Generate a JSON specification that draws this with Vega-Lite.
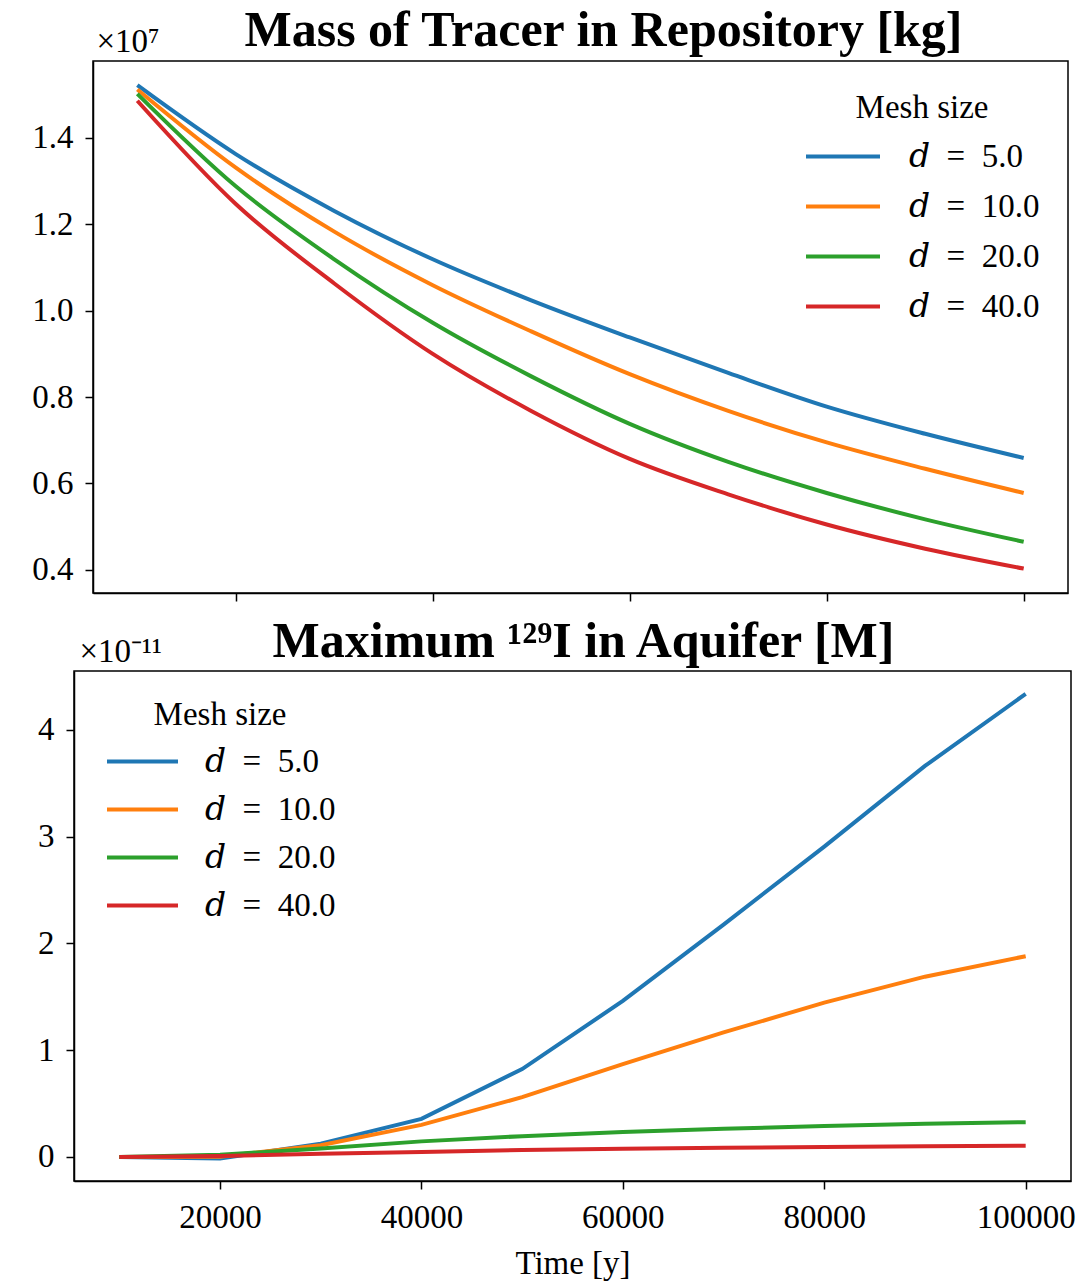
{
  "$schema": "https://vega.github.io/schema/vega-lite/v6.json",
  "padding": {"left": 5, "top": 5, "right": 0, "bottom": 0},
  "background": "white",
  "config": {
    "font": "Liberation Serif",
    "view": {"stroke": "black", "strokeWidth": 1.5},
    "axis": {"grid": false, "domainColor": "black", "domainWidth": 1.5, "tickColor": "black", "tickWidth": 1.5, "tickSize": 8, "labelFont": "Liberation Serif", "labelFontSize": 33, "labelColor": "black", "labelPadding": 12, "labelFlush": false, "titleFont": "Liberation Serif", "titleFontSize": 33, "titleFontWeight": "normal", "titleColor": "black"},
    "axisX": {"titlePadding": 13},
    "legend": {"orient": "none", "titleFont": "Liberation Serif", "titleFontSize": 33, "titleFontWeight": "normal", "titleColor": "black", "titleAnchor": "middle", "titleAlign": "center", "labelFont": "'Liberation Serif', 'DejaVu Serif', serif", "labelFontSize": 33, "labelColor": "black", "symbolType": "stroke", "symbolStrokeWidth": 4, "clipHeight": 33, "padding": 0},
    "title": {"font": "Liberation Serif", "fontSize": 50, "fontWeight": "bold", "color": "black", "anchor": "middle"}
  },
  "datasets": {
    "mass": [
      {"time": 10000, "mesh": "𝑑\u2002=\u20025.0", "mass": 15220000},
      {"time": 20000, "mesh": "𝑑\u2002=\u20025.0", "mass": 13625000},
      {"time": 30000, "mesh": "𝑑\u2002=\u20025.0", "mass": 12310000},
      {"time": 40000, "mesh": "𝑑\u2002=\u20025.0", "mass": 11190000},
      {"time": 50000, "mesh": "𝑑\u2002=\u20025.0", "mass": 10240000},
      {"time": 60000, "mesh": "𝑑\u2002=\u20025.0", "mass": 9380000},
      {"time": 70000, "mesh": "𝑑\u2002=\u20025.0", "mass": 8560000},
      {"time": 80000, "mesh": "𝑑\u2002=\u20025.0", "mass": 7780000},
      {"time": 90000, "mesh": "𝑑\u2002=\u20025.0", "mass": 7150000},
      {"time": 100000, "mesh": "𝑑\u2002=\u20025.0", "mass": 6590000},
      {"time": 10000, "mesh": "𝑑\u2002=\u200210.0", "mass": 15120000},
      {"time": 20000, "mesh": "𝑑\u2002=\u200210.0", "mass": 13310000},
      {"time": 30000, "mesh": "𝑑\u2002=\u200210.0", "mass": 11830000},
      {"time": 40000, "mesh": "𝑑\u2002=\u200210.0", "mass": 10590000},
      {"time": 50000, "mesh": "𝑑\u2002=\u200210.0", "mass": 9520000},
      {"time": 60000, "mesh": "𝑑\u2002=\u200210.0", "mass": 8530000},
      {"time": 70000, "mesh": "𝑑\u2002=\u200210.0", "mass": 7680000},
      {"time": 80000, "mesh": "𝑑\u2002=\u200210.0", "mass": 6950000},
      {"time": 90000, "mesh": "𝑑\u2002=\u200210.0", "mass": 6340000},
      {"time": 100000, "mesh": "𝑑\u2002=\u200210.0", "mass": 5780000},
      {"time": 10000, "mesh": "𝑑\u2002=\u200220.0", "mass": 15020000},
      {"time": 20000, "mesh": "𝑑\u2002=\u200220.0", "mass": 12880000},
      {"time": 30000, "mesh": "𝑑\u2002=\u200220.0", "mass": 11190000},
      {"time": 40000, "mesh": "𝑑\u2002=\u200220.0", "mass": 9720000},
      {"time": 50000, "mesh": "𝑑\u2002=\u200220.0", "mass": 8480000},
      {"time": 60000, "mesh": "𝑑\u2002=\u200220.0", "mass": 7380000},
      {"time": 70000, "mesh": "𝑑\u2002=\u200220.0", "mass": 6500000},
      {"time": 80000, "mesh": "𝑑\u2002=\u200220.0", "mass": 5780000},
      {"time": 90000, "mesh": "𝑑\u2002=\u200220.0", "mass": 5170000},
      {"time": 100000, "mesh": "𝑑\u2002=\u200220.0", "mass": 4650000},
      {"time": 10000, "mesh": "𝑑\u2002=\u200240.0", "mass": 14860000},
      {"time": 20000, "mesh": "𝑑\u2002=\u200240.0", "mass": 12470000},
      {"time": 30000, "mesh": "𝑑\u2002=\u200240.0", "mass": 10630000},
      {"time": 40000, "mesh": "𝑑\u2002=\u200240.0", "mass": 9000000},
      {"time": 50000, "mesh": "𝑑\u2002=\u200240.0", "mass": 7680000},
      {"time": 60000, "mesh": "𝑑\u2002=\u200240.0", "mass": 6570000},
      {"time": 70000, "mesh": "𝑑\u2002=\u200240.0", "mass": 5750000},
      {"time": 80000, "mesh": "𝑑\u2002=\u200240.0", "mass": 5050000},
      {"time": 90000, "mesh": "𝑑\u2002=\u200240.0", "mass": 4490000},
      {"time": 100000, "mesh": "𝑑\u2002=\u200240.0", "mass": 4030000}
    ],
    "iodine": [
      {"time": 10000, "mesh": "𝑑\u2002=\u20025.0", "conc": 0},
      {"time": 20000, "mesh": "𝑑\u2002=\u20025.0", "conc": -1.5e-13},
      {"time": 30000, "mesh": "𝑑\u2002=\u20025.0", "conc": 1.25e-12},
      {"time": 40000, "mesh": "𝑑\u2002=\u20025.0", "conc": 3.57e-12},
      {"time": 50000, "mesh": "𝑑\u2002=\u20025.0", "conc": 8.23e-12},
      {"time": 60000, "mesh": "𝑑\u2002=\u20025.0", "conc": 1.461e-11},
      {"time": 70000, "mesh": "𝑑\u2002=\u20025.0", "conc": 2.176e-11},
      {"time": 80000, "mesh": "𝑑\u2002=\u20025.0", "conc": 2.906e-11},
      {"time": 90000, "mesh": "𝑑\u2002=\u20025.0", "conc": 3.661e-11},
      {"time": 100000, "mesh": "𝑑\u2002=\u20025.0", "conc": 4.336e-11},
      {"time": 10000, "mesh": "𝑑\u2002=\u200210.0", "conc": 0},
      {"time": 20000, "mesh": "𝑑\u2002=\u200210.0", "conc": 2e-14},
      {"time": 30000, "mesh": "𝑑\u2002=\u200210.0", "conc": 1.1e-12},
      {"time": 40000, "mesh": "𝑑\u2002=\u200210.0", "conc": 3.0e-12},
      {"time": 50000, "mesh": "𝑑\u2002=\u200210.0", "conc": 5.6e-12},
      {"time": 60000, "mesh": "𝑑\u2002=\u200210.0", "conc": 8.7e-12},
      {"time": 70000, "mesh": "𝑑\u2002=\u200210.0", "conc": 1.166e-11},
      {"time": 80000, "mesh": "𝑑\u2002=\u200210.0", "conc": 1.445e-11},
      {"time": 90000, "mesh": "𝑑\u2002=\u200210.0", "conc": 1.688e-11},
      {"time": 100000, "mesh": "𝑑\u2002=\u200210.0", "conc": 1.88e-11},
      {"time": 10000, "mesh": "𝑑\u2002=\u200220.0", "conc": 0},
      {"time": 20000, "mesh": "𝑑\u2002=\u200220.0", "conc": 2e-13},
      {"time": 30000, "mesh": "𝑑\u2002=\u200220.0", "conc": 8e-13},
      {"time": 40000, "mesh": "𝑑\u2002=\u200220.0", "conc": 1.46e-12},
      {"time": 50000, "mesh": "𝑑\u2002=\u200220.0", "conc": 1.95e-12},
      {"time": 60000, "mesh": "𝑑\u2002=\u200220.0", "conc": 2.33e-12},
      {"time": 70000, "mesh": "𝑑\u2002=\u200220.0", "conc": 2.64e-12},
      {"time": 80000, "mesh": "𝑑\u2002=\u200220.0", "conc": 2.89e-12},
      {"time": 90000, "mesh": "𝑑\u2002=\u200220.0", "conc": 3.11e-12},
      {"time": 100000, "mesh": "𝑑\u2002=\u200220.0", "conc": 3.26e-12},
      {"time": 10000, "mesh": "𝑑\u2002=\u200240.0", "conc": 0},
      {"time": 20000, "mesh": "𝑑\u2002=\u200240.0", "conc": 1e-13},
      {"time": 30000, "mesh": "𝑑\u2002=\u200240.0", "conc": 3e-13},
      {"time": 40000, "mesh": "𝑑\u2002=\u200240.0", "conc": 4.7e-13},
      {"time": 50000, "mesh": "𝑑\u2002=\u200240.0", "conc": 6.5e-13},
      {"time": 60000, "mesh": "𝑑\u2002=\u200240.0", "conc": 7.8e-13},
      {"time": 70000, "mesh": "𝑑\u2002=\u200240.0", "conc": 8.6e-13},
      {"time": 80000, "mesh": "𝑑\u2002=\u200240.0", "conc": 9.3e-13},
      {"time": 90000, "mesh": "𝑑\u2002=\u200240.0", "conc": 1.0e-12},
      {"time": 100000, "mesh": "𝑑\u2002=\u200240.0", "conc": 1.06e-12}
    ]
  },
  "resolve": {"scale": {"color": "independent"}, "legend": {"color": "independent"}},
  "spacing": 13,
  "vconcat": [
    {
      "spacing": 0,
      "bounds": "flush",
      "hconcat": [
        {
          "width": 19,
          "height": 10,
          "data": {"values": []},
          "mark": "point",
          "encoding": {},
          "view": {"stroke": null}
        },
        {
          "width": 975,
          "height": 532,
          "data": {"name": "mass"},
          "title": {"text": "Mass of Tracer in Repository [kg]", "frame": "group", "dx": 23, "dy": 71, "baseline": "alphabetic", "offset": 0},
          "mark": {"type": "line", "strokeWidth": 4, "interpolate": "monotone", "clip": true},
          "encoding": {
            "x": {"field": "time", "type": "quantitative", "scale": {"domain": [5500, 104500], "nice": false, "zero": false}, "axis": {"values": [20000, 40000, 60000, 80000, 100000], "labels": false, "title": null}},
            "y": {"field": "mass", "type": "quantitative", "scale": {"domain": [3465000, 15780000], "nice": false, "zero": false}, "axis": {"values": [4000000, 6000000, 8000000, 10000000, 12000000, 14000000], "labelExpr": "format(datum.value / 10000000, '.1f')", "title": "×10⁷", "titleAngle": 0, "titleAlign": "left", "titleBaseline": "alphabetic", "titleX": 3, "titleY": -10}},
            "color": {"field": "mesh", "type": "nominal", "title": "Mesh size", "scale": {"domain": ["𝑑\u2002=\u20025.0", "𝑑\u2002=\u200210.0", "𝑑\u2002=\u200220.0", "𝑑\u2002=\u200240.0"], "range": ["#1f77b4", "#ff7f0e", "#2ca02c", "#d62728"]}, "legend": {"legendX": 730, "legendY": 31, "symbolSize": 5476, "titlePadding": 15, "rowPadding": 16, "labelOffset": 27}}
          }
        }
      ]
    },
    {
      "width": 997,
      "height": 510,
      "data": {"name": "iodine"},
      "title": {"text": "Maximum ¹²⁹I in Aquifer [M]", "frame": "group", "dx": 11, "dy": 72, "baseline": "alphabetic", "offset": 0},
      "mark": {"type": "line", "strokeWidth": 4, "clip": true},
      "encoding": {
        "x": {"field": "time", "type": "quantitative", "scale": {"domain": [5500, 104500], "nice": false, "zero": false}, "axis": {"values": [20000, 40000, 60000, 80000, 100000], "format": "d", "title": "Time [y]"}},
        "y": {"field": "conc", "type": "quantitative", "scale": {"domain": [-2.25e-12, 4.55e-11], "nice": false, "zero": false}, "axis": {"values": [0, 1e-11, 2e-11, 3e-11, 4e-11], "labelExpr": "format(round(datum.value * 1e11), 'd')", "title": "×10⁻¹¹", "titleAngle": 0, "titleAlign": "left", "titleBaseline": "alphabetic", "titleX": 5, "titleY": -10, "minExtent": 68}},
        "color": {"field": "mesh", "type": "nominal", "title": "Mesh size", "scale": {"domain": ["𝑑\u2002=\u20025.0", "𝑑\u2002=\u200210.0", "𝑑\u2002=\u200220.0", "𝑑\u2002=\u200240.0"], "range": ["#1f77b4", "#ff7f0e", "#2ca02c", "#d62728"]}, "legend": {"legendX": 31, "legendY": 28, "symbolSize": 5041, "titlePadding": 13, "rowPadding": 14, "labelOffset": 25}}
      }
    }
  ]
}
